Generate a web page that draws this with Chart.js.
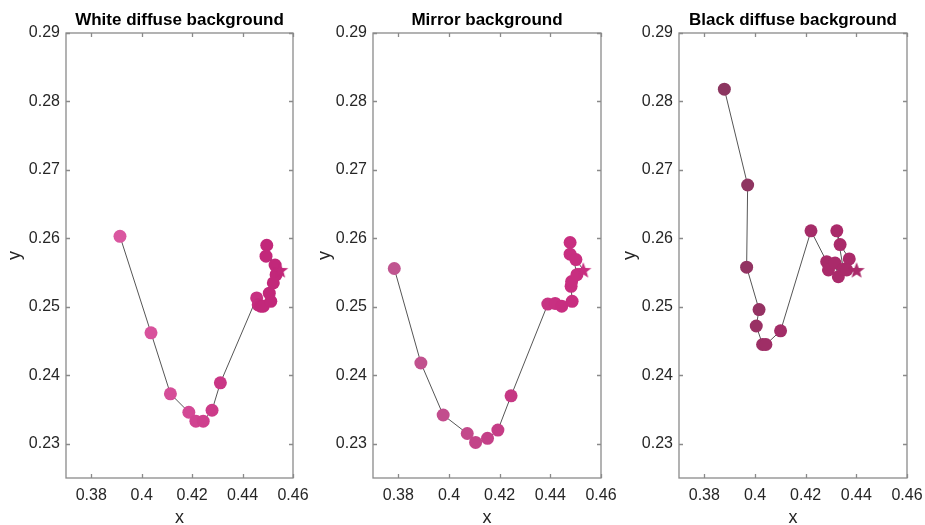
<!DOCTYPE html>
<html>
<head>
<meta charset="utf-8">
<script src="https://cdn.jsdelivr.net/npm/chart.js@4/dist/chart.umd.min.js"></script>
<style>
  html, body { margin: 0; padding: 0; background: #fff; }
  #wrap { position: relative; width: 925px; height: 525px; }
  .panel { position: absolute; top: 0; width: 310px; height: 525px; }
</style>
</head>
<body>
<div id="wrap">
  <div class="panel" style="left:0px"><canvas id="c1"></canvas></div>
  <div class="panel" style="left:310px"><canvas id="c2"></canvas></div>
  <div class="panel" style="left:615px"><canvas id="c3"></canvas></div>
</div>
<script>
// chart data (last point of each run is the star)
const xTicks = [0.38, 0.40, 0.42, 0.44, 0.46];
const yTicks = [0.23, 0.24, 0.25, 0.26, 0.27, 0.28, 0.29];
const titles = ['White diffuse background', 'Mirror background', 'Black diffuse background'];

const whiteX = [0.3914, 0.4037, 0.4114, 0.4187, 0.4215, 0.4244, 0.4279, 0.4312, 0.4456, 0.4462,
                0.4472, 0.4482, 0.4512, 0.4506, 0.4522, 0.4533, 0.4496, 0.4493, 0.4529, 0.4549];
const whiteY = [0.2603, 0.2462, 0.2373, 0.2346, 0.2333, 0.2333, 0.2349, 0.2389, 0.2513, 0.2503,
                0.2501, 0.2501, 0.2508, 0.2520, 0.2535, 0.2547, 0.2590, 0.2574, 0.2561, 0.2554];

const mirrorX = [0.3784, 0.3889, 0.3977, 0.4072, 0.4105, 0.4152, 0.4193, 0.4245, 0.4390, 0.4419,
                 0.4445, 0.4486, 0.4482, 0.4484, 0.4505, 0.4478, 0.4478, 0.4501, 0.4530];
const mirrorY = [0.2556, 0.2418, 0.2342, 0.2315, 0.2302, 0.2308, 0.2320, 0.2370, 0.2504, 0.2505,
                 0.2501, 0.2508, 0.2530, 0.2537, 0.2547, 0.2594, 0.2577, 0.2569, 0.2554];

const blackX = [0.3879, 0.3971, 0.3967, 0.4016, 0.4005, 0.4030, 0.4043, 0.4101, 0.4221, 0.4283,
                0.4290, 0.4316, 0.4329, 0.4349, 0.4323, 0.4336, 0.4372, 0.4362, 0.4401];
const blackY = [0.2818, 0.2678, 0.2558, 0.2496, 0.2472, 0.2445, 0.2445, 0.2465, 0.2611, 0.2566,
                0.2554, 0.2564, 0.2544, 0.2555, 0.2611, 0.2591, 0.2570, 0.2554, 0.2554];

const FONT = '"Liberation Sans", Arial, Helvetica, sans-serif';
const AXIS_COL = '#8a8a8a';
const TEXT_COL = '#262626';

function hexToRgb(h) {
    return [parseInt(h.slice(1, 3), 16), parseInt(h.slice(3, 5), 16), parseInt(h.slice(5, 7), 16)];
}

// colour fades from the first marker colour to the last one
function fadeColors(n, from, to) {
    const a = hexToRgb(from), b = hexToRgb(to);
    const out = [];
    for (let i = 0; i < n; i++) {
        const t = n > 1 ? Math.min(1, i / (n * 0.5)) : 0;
        const c = a.map((v, k) => Math.round(v + (b[k] - v) * t));
        out.push('rgb(' + c.join(',') + ')');
    }
    return out;
}

// filled five point star used as the marker of the last point
function starImage(color) {
    const s = 18;
    const cv = document.createElement('canvas');
    cv.width = s; cv.height = s;
    const g = cv.getContext('2d');
    g.fillStyle = color;
    g.beginPath();
    for (let i = 0; i < 10; i++) {
        const r = i % 2 === 0 ? 8.5 : 3.6;
        const a = -Math.PI / 2 + i * Math.PI / 5;
        const px = s / 2 + r * Math.cos(a), py = s / 2 + 0.8 + r * Math.sin(a);
        if (i === 0) g.moveTo(px, py); else g.lineTo(px, py);
    }
    g.closePath();
    g.fill();
    return cv;
}

// box round the plot with inward ticks on every side, plus the title
const boxPlugin = {
    id: 'boxPlugin',
    afterDraw(chart, args, opts) {
        const { ctx, chartArea: { left, right, top, bottom }, scales: { x, y } } = chart;
        ctx.save();
        ctx.strokeStyle = AXIS_COL;
        ctx.lineWidth = 1.3;
        ctx.strokeRect(left, top, right - left, bottom - top);
        ctx.beginPath();
        xTicks.forEach(v => {
            const px = Math.round(x.getPixelForValue(v)) + 0.5;
            ctx.moveTo(px, bottom); ctx.lineTo(px, bottom - 4);
            ctx.moveTo(px, top); ctx.lineTo(px, top + 4);
        });
        yTicks.forEach(v => {
            const py = Math.round(y.getPixelForValue(v)) + 0.5;
            ctx.moveTo(left, py); ctx.lineTo(left + 4, py);
            ctx.moveTo(right, py); ctx.lineTo(right - 4, py);
        });
        ctx.stroke();
        ctx.fillStyle = '#000';
        ctx.font = 'bold 17px ' + FONT;
        ctx.textAlign = 'center';
        ctx.textBaseline = 'middle';
        ctx.fillText(opts.text, (left + right) / 2, 20);
        ctx.restore();
    }
};

function fmt(v) {
    return String(Number(v.toFixed(2)));
}

function makeChart(id, title, xs, ys, firstCol, lastCol, yWidth, padRight) {
    const n = xs.length;
    const pts = xs.map((v, i) => ({ x: v, y: ys[i] }));
    const cols = fadeColors(n, firstCol, lastCol);
    const star = starImage(lastCol);
    const styles = pts.map((p, i) => i === n - 1 ? star : 'circle');
    const radii = pts.map((p, i) => i === n - 1 ? 9 : 6.5);

    return new Chart(document.getElementById(id), {
        type: 'scatter',
        data: {
            datasets: [{
                data: pts,
                showLine: true,
                borderColor: '#555555',
                borderWidth: 1,
                pointStyle: styles,
                pointRadius: radii,
                pointBackgroundColor: cols,
                pointBorderColor: cols,
                pointBorderWidth: 0,
            }]
        },
        options: {
            responsive: true,
            maintainAspectRatio: false,
            animation: false,
            layout: { padding: { top: 33, right: padRight, left: 0, bottom: 0 } },
            scales: {
                x: {
                    type: 'linear',
                    min: 0.37,
                    max: 0.46,
                    afterBuildTicks: s => { s.ticks = xTicks.map(v => ({ value: v })); },
                    afterFit: s => { s.height = 47; s.paddingLeft = 0; s.paddingRight = 0; },
                    grid: { display: false, drawTicks: false },
                    border: { display: false },
                    ticks: { padding: 8, color: TEXT_COL, font: { family: FONT, size: 16 }, callback: v => fmt(v) },
                    title: { display: true, text: 'x', color: TEXT_COL, font: { family: FONT, size: 18 }, padding: { top: 0, bottom: -4 } },
                },
                y: {
                    type: 'linear',
                    min: 0.225,
                    max: 0.29,
                    afterBuildTicks: s => { s.ticks = yTicks.map(v => ({ value: v })); },
                    afterFit: s => { s.width = yWidth; s.paddingTop = 0; s.paddingBottom = 0; },
                    grid: { display: false, drawTicks: false },
                    border: { display: false },
                    ticks: { padding: 6, color: TEXT_COL, font: { family: FONT, size: 16 }, callback: v => fmt(v) },
                    title: { display: true, text: 'y', color: TEXT_COL, font: { family: FONT, size: 18 }, padding: { top: 4, bottom: 0 } },
                },
            },
            plugins: {
                legend: { display: false },
                tooltip: { enabled: false },
                boxPlugin: { text: title },
            },
        },
        plugins: [boxPlugin]
    });
}

makeChart('c1', titles[0], whiteX, whiteY, '#da57a0', '#c2287a', 66, 17);
makeChart('c2', titles[1], mirrorX, mirrorY, '#c05590', '#c82e80', 63, 19);
makeChart('c3', titles[2], blackX, blackY, '#8c3660', '#aa2a6a', 64, 18);
</script>
</body>
</html>
